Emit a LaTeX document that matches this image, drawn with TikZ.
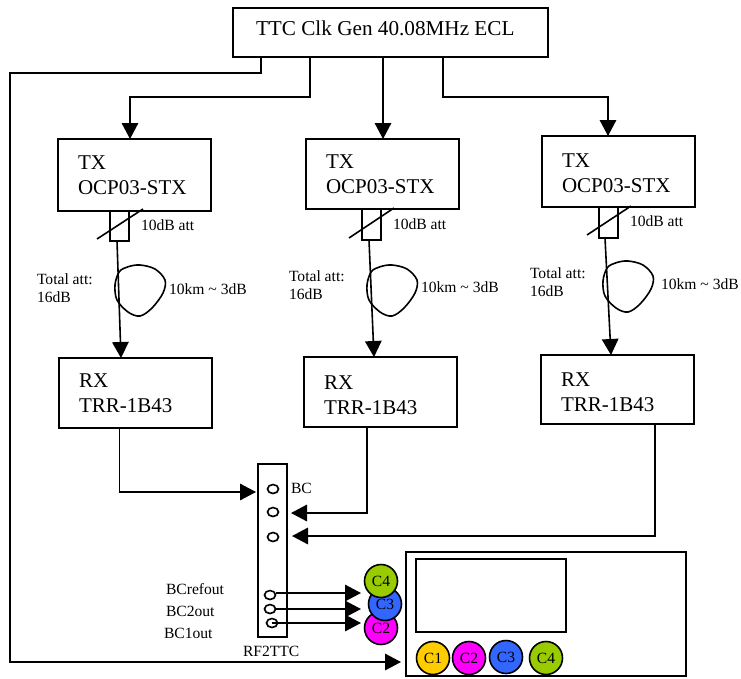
\documentclass[tikz,border=0pt]{standalone}
\usepackage{fontspec}
\setmainfont{Liberation Serif}
\usepackage{xcolor}
\definecolor{chanone}{HTML}{FFCC00}
\definecolor{chantwo}{HTML}{FF00FF}
\definecolor{chanthree}{HTML}{3366FF}
\definecolor{chanfour}{HTML}{99CC00}
\usetikzlibrary{arrows.meta,positioning,calc,shapes.geometric}

\begin{document}
\begin{tikzpicture}[
  x=1pt, y=-1pt,
  line width=1.6pt,
  font=\fontsize{21}{25}\selectfont,
  every node/.style={outer sep=0pt},
  unit/.style={draw, anchor=north west, minimum width=153pt, minimum height=72pt,
    inner sep=0pt, text width=113pt, align=left},
  att/.style={draw, anchor=north west, minimum width=19pt, minimum height=30pt, inner sep=0pt},
  lbl/.style={font=\fontsize{15.6}{18}\selectfont, inner sep=0pt, anchor=west, align=left},
  jack/.style={draw, fill=white, ellipse, minimum width=11pt, minimum height=9pt, inner sep=0pt},
  chan/.style={draw, circle, minimum size=33pt, inner sep=0pt, font=\fontsize{15.6}{18}\selectfont},
  arr/.style={-{Triangle[length=16pt,width=16.5pt]}},
  fibre/.pic={\draw plot[smooth cycle, tension=0.55] coordinates
    {(-20.7,-18.3) (-11.7,-23.3) (0,-25) (15,-21) (25,-10) (23,3) (12,18) (0,26) (-12,22) (-23,10) (-25,-5)};}
]
\useasboundingbox (0,0) rectangle (741,678);
% clock generator
\node[draw, anchor=north west, minimum width=315pt, minimum height=49pt, inner sep=0pt,
  font=\fontsize{21.2}{25}\selectfont,
  text width=269pt, align=flush left, text depth=9pt] (clk) at (233,8) {TTC Clk Gen 40.08MHz ECL};
% transmitters
\node[unit] (txa) at (58,139) {TX\\OCP03-STX};
\node[unit, minimum height=70pt] (txb) at (306,139) {TX\\OCP03-STX};
\node[unit, minimum height=71pt] (txc) at (542,136) {\rule{0pt}{17pt}TX\\OCP03-STX};
% receivers
\node[unit, minimum height=70pt] (rxa) at (59,358) {RX\\TRR-1B43};
\node[unit, minimum height=70pt] (rxb) at (304,357) {\rule{0pt}{20pt}RX\\TRR-1B43};
\node[unit, minimum height=69pt] (rxc) at (541,355) {\rule{0pt}{20pt}RX\\TRR-1B43};
% attenuators
\node[att] (atta) at (110,211) {};
\node[att, minimum height=31pt] (attb) at (362,209) {};
\node[att, minimum height=31pt] (attc) at (599,207) {};
\draw (97,239) -- (143,209);
\draw (349,238) -- (394,208);
\draw (587,235) -- (631,206);
\node[lbl] (attla) at (141,225) {10dB att};
\node[lbl] (attlb) at (393,224) {10dB att};
\node[lbl] (attlc) at (630,221) {10dB att};
% fibre spools
\pic at (140,290) {fibre};
\pic at (392,290) {fibre};
\pic at (628,286) {fibre};
\node[lbl] (kma) at (169,289) {10km \textasciitilde{} 3dB};
\node[lbl] (kmb) at (421,287) {10km \textasciitilde{} 3dB};
\node[lbl] (kmc) at (661,284) {10km \textasciitilde{} 3dB};
\node[lbl] (tota) at (37,288) {Total att:\\16dB};
\node[lbl] (totb) at (289,285) {Total att:\\16dB};
\node[lbl] (totc) at (530,282) {Total att:\\16dB};
% RF2TTC
\node[draw, anchor=north west, minimum width=29pt, minimum height=173pt, inner sep=0pt] (rf) at (258,464) {};
\node[jack] (bca) at (273,489) {};
\node[jack] (bcb) at (273,512) {};
\node[jack] (bcc) at (273,537) {};
\node[jack] (outa) at (270,595) {};
\node[jack] (outb) at (270,609) {};
\node[jack] (outc) at (272,623) {};
\node[lbl] (bcl) at (291,488) {BC};
\node[lbl] (refl) at (166,589) {BCrefout};
\node[lbl] (twol) at (166,611) {BC2out};
\node[lbl] (onel) at (164,633) {BC1out};
\node[lbl] (rfl) at (243,651) {RF2TTC};
% channel stack
\node[chan, fill=chantwo] (stwo) at (381,628) {C2};
\node[chan, fill=chanthree] (sthree) at (385,604) {C3};
\node[chan, fill=chanfour] (sfour) at (381,581) {C4};
% scope
\node[draw, anchor=north west, minimum width=280pt, minimum height=124pt, inner sep=0pt] (scope) at (406,552) {};
\node[draw, anchor=north west, minimum width=150pt, minimum height=73pt, inner sep=0pt] (screen) at (416,559) {};
\node[chan, fill=chanone] (cone) at (433,658) {C1};
\node[chan, fill=chantwo] (ctwo) at (469,658) {C2};
\node[chan, fill=chanthree] (cthree) at (506,657) {C3};
\node[chan, fill=chanfour] (cfour) at (546,658) {C4};
% clock lines
\coordinate (tapa) at (310,57);
\coordinate (tapb) at (383,57);
\coordinate (tapc) at (443,57);
\coordinate (tapd) at (261,57);
\coordinate (tipd) at (401,662);
\draw[arr] (tapa) -- (310,97) -| ($(txa.north)+(-4.5,0)$);
\draw[arr] (tapb) -- (tapb|-txb.north);
\draw[arr] (tapc) -- (443,97) -| ($(txc.north)+(-10.5,0)$);
\draw[arr] (tapd) -- (261,73) -- (10,73) -- (10,662) -- (tipd);
% fibres
\draw[arr] ($(atta.south)+(-2.5,0)$) -- ($(rxa.north)+(-14.5,0)$);
\draw[arr] ($(attb.south)+(-2.5,0)$) -- ($(rxb.north)+(-6.5,0)$);
\draw[arr] ($(attc.south)+(-3.5,0)$) -- ($(rxc.north)+(-6.5,0)$);
% to RF2TTC
\draw[arr] ($(rxa.south)+(-16,0)$) -- (119.5,492) -- (256,492);
\draw[arr] ($(rxb.south)+(-13.5,0)$) -- (367,513) -- (291,513);
\draw[arr] ($(rxc.south)+(37.5,0)$) -- (655,536) -- (292,536);
% outputs
\coordinate (tipa) at (361,593);
\coordinate (tipb) at (361,609);
\coordinate (tipc) at (361,623);
\draw[arr] (outa.east|-tipa) -- (tipa);
\draw[arr] (outb.east|-tipb) -- (tipb);
\draw[arr] (outc.center|-tipc) -- (tipc);
\end{tikzpicture}
\end{document}
